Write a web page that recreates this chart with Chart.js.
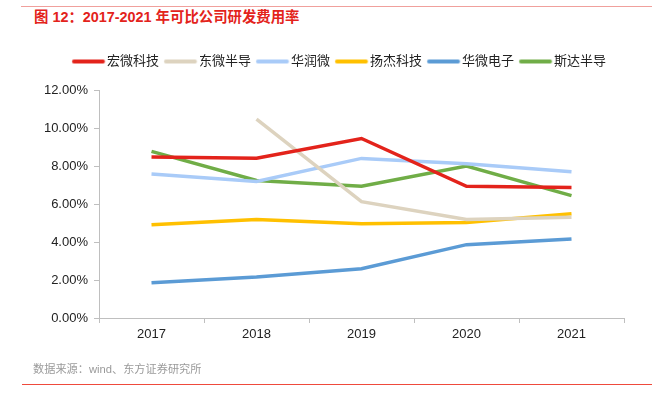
<!DOCTYPE html>
<html>
<head>
<meta charset="utf-8">
<script src="https://cdn.jsdelivr.net/npm/chart.js@4"></script>
<style>
  html, body { margin: 0; padding: 0; background: #fff; }
  body { width: 668px; height: 398px; position: relative; overflow: hidden; font-family: "Liberation Sans", "Noto Sans CJK SC", sans-serif; }
  #wrap { position: absolute; left: 0; top: 0; width: 668px; height: 398px; }
  #title { position: absolute; left: 34px; top: 8px; font-size: 14.4px; font-weight: bold; color: #e3231b; font-family: "Liberation Sans", "Noto Sans CJK SC", sans-serif; white-space: nowrap; line-height: 18px; }
  #foot { position: absolute; left: 33px; top: 362px; font-size: 11.2px; color: #9a9a9a; font-family: "Liberation Sans", "Noto Sans CJK SC", sans-serif; white-space: nowrap; line-height: 15px; }
  #ruleTop { position: absolute; left: 21px; top: 6px; width: 631px; height: 1.4px; background: #f0a09c; }
  #ruleBot { position: absolute; left: 22px; top: 384px; width: 630px; height: 1.2px; background: #ef4a3c; }
</style>
</head>
<body>
<div id="ruleTop"></div>
<div id="title">图 12：2017-2021 年可比公司研发费用率</div>
<div id="wrap"><canvas id="c" width="668" height="398"></canvas></div>
<div id="foot">数据来源：wind、东方证券研究所</div>
<div id="ruleBot"></div>
<script>
const years = ["2017", "2018", "2019", "2020", "2021"];
const seriesNames = ["宏微科技", "东微半导", "华润微", "扬杰科技", "华微电子", "斯达半导"];
const hongwei = [8.47, 8.41, 9.45, 6.93, 6.87];
const dongwei = [null, 10.47, 6.12, 5.19, 5.30];
const huarun = [7.58, 7.19, 8.40, 8.12, 7.70];
const yangjie = [4.91, 5.19, 4.96, 5.03, 5.49];
const huawei = [1.86, 2.16, 2.59, 3.86, 4.16];
const sida = [8.77, 7.24, 6.93, 8.00, 6.44];
const colors = ["#e3231b", "#ddd3bf", "#a9cbf8", "#ffc000", "#5b9bd5", "#70ad47"];
const yTicks = [0, 2, 4, 6, 8, 10, 12];

function legendLine(color) {
  const cv = document.createElement('canvas');
  cv.width = 66; cv.height = 8;
  const g = cv.getContext('2d');
  g.strokeStyle = color;
  g.lineWidth = 4;
  g.lineCap = 'round';
  g.beginPath();
  g.moveTo(20.75, 4);
  g.lineTo(49.75, 4);
  g.stroke();
  return cv;
}

const allData = [hongwei, dongwei, huarun, yangjie, huawei, sida];
const datasets = allData.map((d, i) => ({
  label: seriesNames[i],
  data: d,
  borderColor: colors[i],
  backgroundColor: colors[i],
  borderWidth: 3.5,
  pointRadius: 0,
  pointHoverRadius: 0,
  pointStyle: legendLine(colors[i]),
  tension: 0,
  spanGaps: false,
  fill: false
}));

const legendTweak = {
  id: 'legendTweak',
  beforeInit(chart) {
    const fit = chart.legend.fit;
    chart.legend.fit = function () {
      fit.call(this);
      this.height = 40;
    };
  },
  afterLayout(chart) {
    chart.legend.left += 17;
    chart.legend.right += 17;
  }
};

const font = { family: '"Liberation Sans", "Noto Sans CJK SC", sans-serif', size: 13 };

new Chart(document.getElementById('c'), {
  type: 'line',
  data: { labels: years, datasets },
  plugins: [legendTweak],
  options: {
    responsive: false,
    animation: false,
    devicePixelRatio: 1,
    layout: { padding: { top: 50, left: 20, right: 44, bottom: 0 } },
    plugins: {
      title: { display: false },
      tooltip: { enabled: false },
      legend: {
        display: true,
        position: 'top',
        align: 'center',
        labels: {
          usePointStyle: true,
          pointStyleWidth: 28.5,
          boxHeight: 8,
          padding: 5,
          color: '#222',
          font: font
        }
      }
    },
    scales: {
      x: {
        offset: true,
        afterFit(scale) { scale.height = 80; },
        grid: { offset: true, drawOnChartArea: false, drawTicks: true, tickLength: 5, color: '#bfbfbf' },
        border: { color: '#bfbfbf' },
        ticks: { color: '#222', font: font, padding: 4, maxRotation: 0 }
      },
      y: {
        min: 0,
        max: 12,
        afterFit(scale) { scale.width = 79; },
        afterBuildTicks(scale) { scale.ticks = yTicks.map(v => ({ value: v })); },
        grid: { drawOnChartArea: false, drawTicks: true, tickLength: 5, color: '#bfbfbf' },
        border: { color: '#bfbfbf' },
        ticks: { color: '#222', font: font, padding: 6, callback: v => v.toFixed(2) + '%' }
      }
    }
  }
});
</script>
</body>
</html>
